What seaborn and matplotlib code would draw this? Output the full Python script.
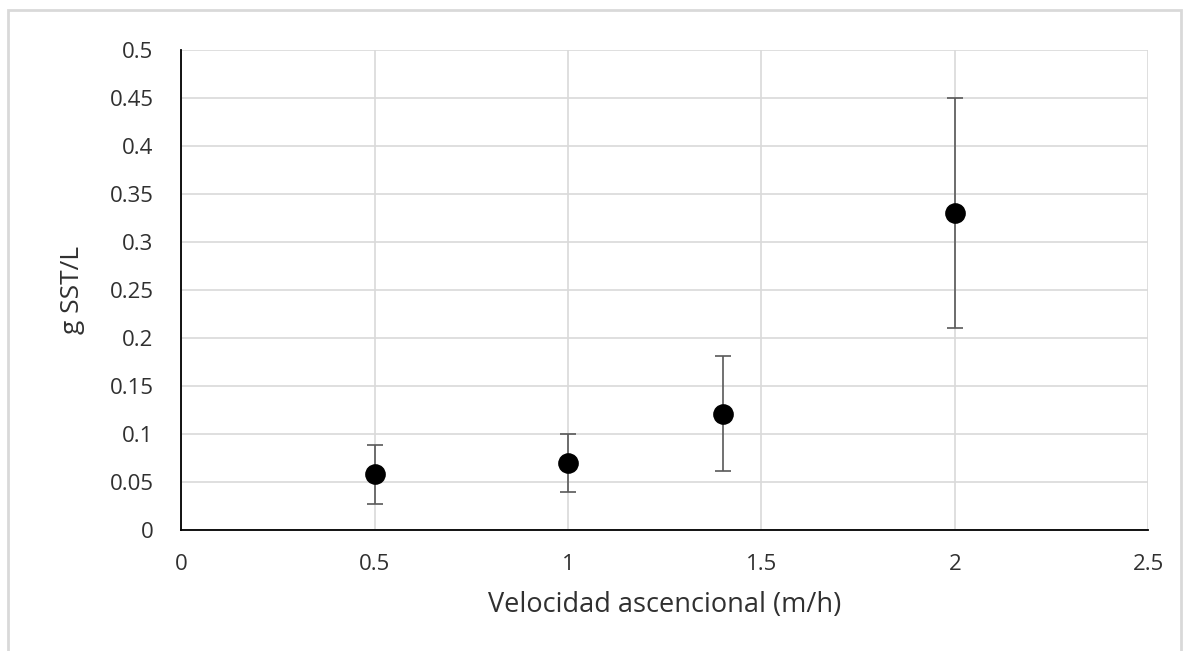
import matplotlib
matplotlib.use("Agg")
import matplotlib.pyplot as plt
import seaborn as sns
import pandas as pd
from matplotlib.patches import Rectangle

# Data
velocidad = [0.5, 1.0, 1.4, 2.0]
sst = [0.058, 0.070, 0.121, 0.330]
err = [0.031, 0.030, 0.060, 0.120]
x_ticks = [0, 0.5, 1, 1.5, 2, 2.5]
x_tick_labels = ["0", "0.5", "1", "1.5", "2", "2.5"]
y_ticks = [0, 0.05, 0.1, 0.15, 0.2, 0.25, 0.3, 0.35, 0.4, 0.45, 0.5]
y_tick_labels = ["0", "0.05", "0.1", "0.15", "0.2", "0.25", "0.3", "0.35", "0.4", "0.45", "0.5"]

df = pd.DataFrame({"x": velocidad, "y": sst, "e": err})

sns.set_theme(style="white")
plt.rcParams['font.family'] = ['Open Sans', 'DejaVu Sans']

fig = plt.figure(figsize=(11.85, 6.51), dpi=100)
ax = fig.add_axes([0.153, 0.186, 0.816, 0.737])

# outer frame
fig.patches.append(Rectangle((0.007, -0.02), 0.99, 1.005, transform=fig.transFigure,
                             fill=False, edgecolor="#d9d9d9", linewidth=2))

ax.errorbar(df["x"], df["y"], yerr=df["e"], fmt="none", ecolor="#595959",
            elinewidth=1.2, capsize=5.5, capthick=1.2, zorder=2)
sns.scatterplot(data=df, x="x", y="y", ax=ax, s=190, color="black",
                edgecolor="black", zorder=3, legend=False)

ax.set_xlim(0, 2.5)
ax.set_ylim(0, 0.5)
ax.set_xticks(x_ticks)
ax.set_xticklabels(x_tick_labels)
ax.set_yticks(y_ticks)
ax.set_yticklabels(y_tick_labels)
ax.grid(True, color="#d9d9d9", linewidth=1.2)
ax.set_axisbelow(True)
for s in ["top", "right"]:
    ax.spines[s].set_visible(False)
for s in ["left", "bottom"]:
    ax.spines[s].set_color("black")
    ax.spines[s].set_linewidth(1.3)
ax.tick_params(axis="both", length=0, labelsize=16, labelcolor="#303030")
ax.tick_params(axis="y", pad=20)
ax.tick_params(axis="x", pad=17)

ax.set_xlabel("Velocidad ascencional (m/h)", fontsize=19.5, color="#303030", labelpad=12)
ax.set_ylabel("g SST/L", fontsize=19, color="#303030", labelpad=18)

fig.savefig("out.png", dpi=100)
